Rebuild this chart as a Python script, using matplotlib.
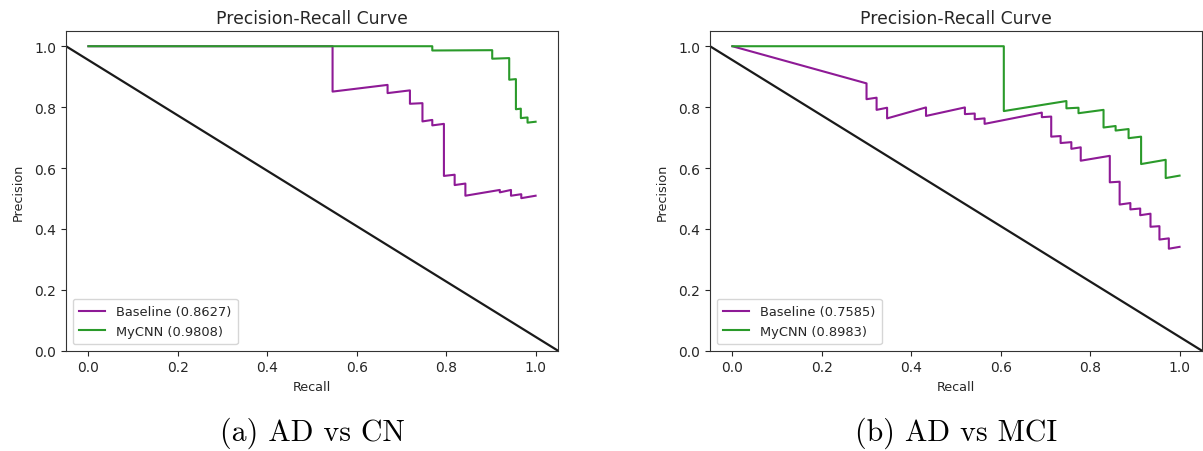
import matplotlib
matplotlib.use("Agg")
import matplotlib.pyplot as plt

# Panel (a): AD vs CN
base_a_recall = [0.0, 0.546, 0.546, 0.669, 0.669, 0.719, 0.719, 0.747, 0.747, 0.769, 0.769,
                 0.795, 0.795, 0.819, 0.819, 0.843, 0.843, 0.920, 0.920, 0.945, 0.945,
                 0.968, 0.968, 1.0]
base_a_precision = [1.0, 1.0, 0.851, 0.873, 0.846, 0.855, 0.811, 0.813, 0.753, 0.758, 0.740,
                    0.745, 0.574, 0.578, 0.544, 0.549, 0.509, 0.528, 0.520, 0.528, 0.509,
                    0.514, 0.501, 0.509]
cnn_a_recall = [0.0, 0.769, 0.769, 0.903, 0.903, 0.941, 0.941, 0.956, 0.956, 0.967, 0.967,
                0.982, 0.982, 1.0]
cnn_a_precision = [1.0, 1.0, 0.986, 0.987, 0.959, 0.961, 0.890, 0.892, 0.793, 0.795, 0.764,
                   0.766, 0.749, 0.752]

# Panel (b): AD vs MCI
base_b_recall = [0.0, 0.300, 0.300, 0.3225, 0.3225, 0.346, 0.346, 0.433, 0.433, 0.520, 0.520,
                 0.542, 0.542, 0.564, 0.564, 0.692, 0.692, 0.713, 0.713, 0.734, 0.734,
                 0.758, 0.758, 0.779, 0.779, 0.844, 0.844, 0.866, 0.866, 0.890, 0.890,
                 0.912, 0.912, 0.935, 0.935, 0.955, 0.955, 0.976, 0.976, 1.0]
base_b_precision = [1.0, 0.878, 0.826, 0.831, 0.791, 0.798, 0.763, 0.799, 0.771, 0.799, 0.777,
                    0.779, 0.760, 0.763, 0.745, 0.782, 0.767, 0.769, 0.703, 0.705, 0.682,
                    0.685, 0.663, 0.668, 0.624, 0.640, 0.553, 0.555, 0.480, 0.485, 0.464,
                    0.467, 0.445, 0.450, 0.407, 0.409, 0.365, 0.369, 0.335, 0.341]
cnn_b_recall = [0.0, 0.607, 0.607, 0.747, 0.747, 0.774, 0.774, 0.830, 0.830, 0.857, 0.857,
                0.886, 0.886, 0.914, 0.914, 0.969, 0.969, 1.0]
cnn_b_precision = [1.0, 1.0, 0.787, 0.820, 0.796, 0.798, 0.780, 0.791, 0.733, 0.738, 0.723,
                   0.728, 0.698, 0.703, 0.613, 0.627, 0.567, 0.575]

auc_a = {"Baseline": "0.8627", "MyCNN": "0.9808"}
auc_b = {"Baseline": "0.7585", "MyCNN": "0.8983"}
captions = ["(a) AD vs CN", "(b) AD vs MCI"]

BASE_COLOR = "#8e1a96"
CNN_COLOR = "#2a9a2a"
TEXT_COLOR = "#262626"

plt.rcParams["font.family"] = ["DejaVu Sans"]
plt.rcParams["text.color"] = TEXT_COLOR
plt.rcParams["axes.labelcolor"] = TEXT_COLOR
plt.rcParams["xtick.color"] = TEXT_COLOR
plt.rcParams["ytick.color"] = TEXT_COLOR

fig = plt.figure(figsize=(12.03, 4.52), dpi=100)
ax_a = fig.add_axes([0.0549, 0.2219, 0.4089, 0.7073])
ax_b = fig.add_axes([0.5902, 0.2219, 0.4089, 0.7073])

panels = [
    (ax_a, base_a_recall, base_a_precision, cnn_a_recall, cnn_a_precision, auc_a),
    (ax_b, base_b_recall, base_b_precision, cnn_b_recall, cnn_b_precision, auc_b),
]

for ax, br, bp, cr, cp, auc in panels:
    xlim = (-0.05, 1.05)
    ax.plot(br, bp, color=BASE_COLOR, lw=1.5, label=f"Baseline ({auc['Baseline']})")
    ax.plot(cr, cp, color=CNN_COLOR, lw=1.5, label=f"MyCNN ({auc['MyCNN']})")
    ax.plot(xlim, [1.0, 0.0], color="#1a1a1a", lw=1.6)
    ax.set_xlim(*xlim)
    ax.set_ylim(0.0, 1.05)
    ax.set_xticks([0.0, 0.2, 0.4, 0.6, 0.8, 1.0])
    ax.set_yticks([0.0, 0.2, 0.4, 0.6, 0.8, 1.0])
    ax.tick_params(labelsize=10, length=3.5, width=0.8)
    ax.set_title("Precision-Recall Curve", fontsize=12.4, pad=6)
    ax.set_xlabel("Recall", fontsize=9.2)
    ax.set_ylabel("Precision", fontsize=9.2, labelpad=7)
    for s in ax.spines.values():
        s.set_color("#333333")
    ax.legend(loc="lower left", fontsize=9.4, borderpad=0.5)

for ax, cap in zip([ax_a, ax_b], captions):
    pos = ax.get_position()
    fig.text((pos.x0 + pos.x1) / 2, 1 - 441 / 452, cap, ha="center", va="baseline",
             fontsize=21.5, family="cmr10", color="black")

fig.savefig("out.png", dpi=100)
